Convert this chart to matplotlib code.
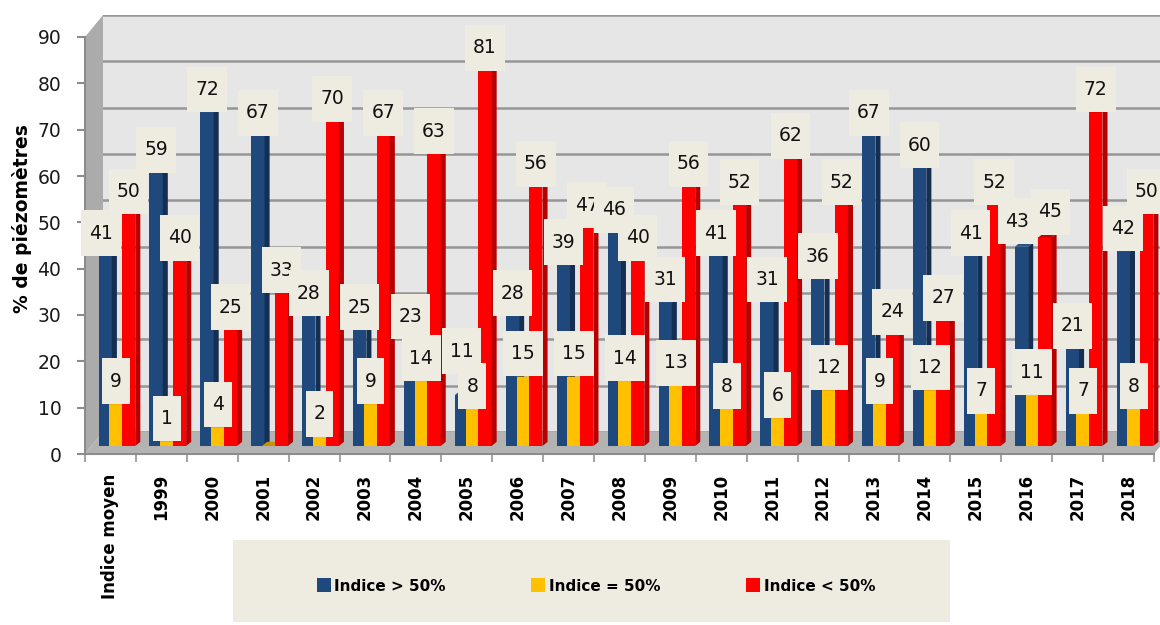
import matplotlib

matplotlib.use("Agg")
import matplotlib.pyplot as plt
import numpy as np
from matplotlib.patches import Polygon, Rectangle

plt.rcParams["font.family"] = ["DejaVu Sans"]

categories = ["Indice moyen", "1999", "2000", "2001", "2002", "2003", "2004", "2005",
              "2006", "2007", "2008", "2009", "2010", "2011", "2012", "2013",
              "2014", "2015", "2016", "2017", "2018"]
above_50 = [41, 59, 72, 67, 28, 25, 23, 11, 28, 39, 46, 31, 41, 31, 36, 67, 60, 41, 43, 21, 42]
equal_50 = [9, 1, 4, 0, 2, 9, 14, 8, 15, 15, 14, 13, 8, 6, 12, 9, 12, 7, 11, 7, 8]
below_50 = [50, 40, 25, 33, 70, 67, 63, 81, 56, 47, 40, 56, 52, 62, 52, 24, 27, 52, 45, 72, 50]
series_names = ["Indice > 50%", "Indice = 50%", "Indice < 50%"]

W, H = 1160, 625
fig = plt.figure(figsize=(W / 100, H / 100), dpi=100, facecolor="white")


def px_axes(left, top, width, height):
    # rectangle given in pixels from the top-left corner
    return fig.add_axes([left / W, 1 - (top + height) / H, width / W, height / H])


n = len(categories)
front_l, front_t, front_w, front_h = 85, 37, 1069, 417

# back wall (shifted up/right to fake depth)
back = px_axes(front_l + 18, front_t - 22, W - front_l - 18, front_h)
back.set_facecolor("#e6e6e6")
back.set_ylim(0, 90)
back.set_xlim(0, 1)
back.set_yticks(np.arange(0, 91, 10))
back.grid(True, axis="y", color="#969696", linewidth=1.8)
back.tick_params(left=False, bottom=False, labelleft=False, labelbottom=False)
for s in back.spines.values():
    s.set_visible(False)

# front axes: carries ticks and labels
ax = px_axes(front_l, front_t, front_w, front_h)
ax.set_facecolor("none")
ax.set_xlim(0, n)
ax.set_ylim(0, 90)
ax.set_yticks(np.arange(0, 91, 10))
ax.tick_params(axis="y", length=6, width=1.5, color="#8c8c8c", labelsize=13.5,
               labelcolor="#1a1a1a", pad=11)
ax.set_xticks(np.arange(0, n + 1))
ax.set_xticklabels([])
ax.set_xticks(np.arange(n) + 0.5, minor=True)
ax.set_xticklabels(categories, minor=True, rotation=90, fontweight="bold", fontsize=12,
                   va="top", ha="center")
ax.tick_params(axis="x", which="major", length=6, width=1.5, color="#a6a6a6")
ax.tick_params(axis="x", which="minor", length=0, pad=14)
for side in ("top", "right"):
    ax.spines[side].set_visible(False)
ax.spines["left"].set_color("#8c8c8c")
ax.spines["left"].set_linewidth(1.5)
ax.spines["bottom"].set_color("#8c8c8c")
ax.spines["bottom"].set_linewidth(1.5)

# left wall and floor, built from the two axes frames (drawn below every axes)
to_fig = fig.transFigure.inverted()


def corner(a, x, y):
    return to_fig.transform(a.transAxes.transform((x, y)))


shift = back.transAxes.transform((0, 0)) - ax.transAxes.transform((0, 0))
bf_r = to_fig.transform(ax.transData.transform((n, 0)))
bb_r = to_fig.transform(ax.transData.transform((n, 0)) + shift)
wall = Polygon([corner(ax, 0, 0), corner(ax, 0, 1), corner(back, 0, 1), corner(back, 0, 0)],
               closed=True, transform=fig.transFigure, facecolor="#ababab", edgecolor="none", zorder=-1)
floor = Polygon([corner(ax, 0, 0), bf_r, bb_r, corner(back, 0, 0)],
                closed=True, transform=fig.transFigure, facecolor="#b3b3b3", edgecolor="none", zorder=-1)
fig.patches.extend([wall, floor])

# bar layer sits halfway between front and back
bx = px_axes(front_l + 9, front_t - 8, front_w, front_h)
bx.set_facecolor("none")
bx.set_xlim(0, n)
bx.set_ylim(0, 90)
bx.axis("off")

BAR_W = 0.26
DX, DY = 0.1, 0.9
offsets = [0.09, 0.30, 0.55]
colors = [("#1f497d", "#142f52", "#2a5688"),
          ("#ffc000", "#d49f00", "#c89200"),
          ("#ff0000", "#b80000", "#cc0000")]
data = [above_50, equal_50, below_50]

x = np.arange(n)
for i in range(n):
    for k in range(3):
        front, side, top = colors[k]
        h = data[k][i]
        x0 = x[i] + offsets[k]
        z = 2 + i * 3 + k
        bx.bar(x0, h, width=BAR_W, align="edge", color=front, zorder=z)
        bx.add_patch(Polygon([(x0 + BAR_W, 0), (x0 + BAR_W + DX, DY), (x0 + BAR_W + DX, h + DY), (x0 + BAR_W, h)],
                             closed=True, facecolor=side, edgecolor="none", zorder=z))
        bx.add_patch(Polygon([(x0, h), (x0 + DX, h + DY), (x0 + BAR_W + DX, h + DY), (x0 + BAR_W, h)],
                             closed=True, facecolor=top, edgecolor="none", zorder=z))

# a few labels were pushed aside in the original to avoid collisions (points)
nudges = {(0, 0): (-3, 0), (7, 0): (0, 15), (18, 0): (-3, 2), (18, 2): (4, 2)}

for i in range(n):
    for k in range(3):
        h = data[k][i]
        if h == 0:
            continue
        ox, oy = nudges.get((i, k), (0, 0))
        bx.annotate(f"{h}", xy=(x[i] + offsets[k] + BAR_W / 2, h), xytext=(ox, 16.5 + oy),
                    textcoords="offset points", ha="center", va="center", fontsize=13.5,
                    color="#111111", zorder=200, annotation_clip=False,
                    bbox=dict(boxstyle="square,pad=0.42", facecolor="#eeebe0", edgecolor="none",
                              mutation_aspect=1.7))

fig.text(22 / W, 1 - 219 / H, "% de piézomètres", rotation=90, ha="center", va="center",
         fontsize=13.5, fontweight="bold")

# legend panel
fig.patches.append(Rectangle((233 / W, 1 - 622 / H), (950 - 233) / W, (622 - 540) / H,
                             transform=fig.transFigure, facecolor="#eeebe0", edgecolor="none", zorder=-1))
handles = [Rectangle((0, 0), 1, 1, facecolor=c[0], edgecolor="none") for c in colors]
fig.legend(handles, series_names, loc="center", bbox_to_anchor=(596 / W, 1 - 586 / H), ncol=3,
           frameon=False, handlelength=0.9, handleheight=1.0, handletextpad=0.25,
           columnspacing=5.6, prop={"weight": "bold", "size": 11})

fig.savefig("out.png", dpi=100, facecolor="white")
